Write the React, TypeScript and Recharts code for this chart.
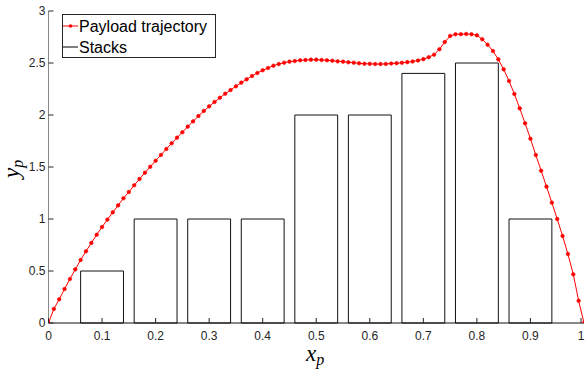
import { ComposedChart, Line, XAxis, YAxis, ReferenceArea } from "recharts";

const TRAJ_X = [
  0, 0.01, 0.02, 0.03, 0.04, 0.05, 0.06, 0.07, 0.08, 0.09,
  0.1, 0.11, 0.12, 0.13, 0.14, 0.15, 0.16, 0.17, 0.18, 0.19,
  0.2, 0.21, 0.22, 0.23, 0.24, 0.25, 0.26, 0.27, 0.28, 0.29,
  0.3, 0.31, 0.32, 0.33, 0.34, 0.35, 0.36, 0.37, 0.38, 0.39,
  0.4, 0.41, 0.42, 0.43, 0.44, 0.45, 0.46, 0.47, 0.48, 0.49,
  0.5, 0.51, 0.52, 0.53, 0.54, 0.55, 0.56, 0.57, 0.58, 0.59,
  0.6, 0.61, 0.62, 0.63, 0.64, 0.65, 0.66, 0.67, 0.68, 0.69,
  0.7, 0.71, 0.72, 0.73, 0.74, 0.75, 0.76, 0.77, 0.78, 0.79,
  0.8, 0.81, 0.82, 0.83, 0.84, 0.85, 0.86, 0.87, 0.88, 0.89,
  0.9, 0.91, 0.92, 0.93, 0.94, 0.95, 0.96, 0.97, 0.98, 0.99,
  1,
];
const TRAJ_Y = [
  0, 0.135, 0.228, 0.327, 0.423, 0.516, 0.606, 0.69, 0.77, 0.849,
  0.923, 0.994, 1.064, 1.131, 1.199, 1.26, 1.324, 1.385, 1.445, 1.502,
  1.56, 1.616, 1.673, 1.728, 1.782, 1.834, 1.888, 1.939, 1.99, 2.038,
  2.083, 2.125, 2.166, 2.205, 2.24, 2.276, 2.311, 2.343, 2.375, 2.404,
  2.43, 2.452, 2.474, 2.49, 2.503, 2.513, 2.519, 2.526, 2.529, 2.532,
  2.532, 2.529, 2.526, 2.522, 2.516, 2.513, 2.507, 2.503, 2.497, 2.493,
  2.492, 2.49, 2.49, 2.491, 2.495, 2.498, 2.502, 2.508, 2.515, 2.524,
  2.537, 2.556, 2.58, 2.632, 2.702, 2.76, 2.776, 2.777, 2.779, 2.776,
  2.766, 2.728, 2.676, 2.615, 2.535, 2.439, 2.327, 2.202, 2.064, 1.92,
  1.772, 1.615, 1.464, 1.311, 1.157, 1, 0.837, 0.663, 0.468, 0.214,
  0,
];

// stacks: centre, height, common width
const STACK_X = [0.1, 0.2, 0.3, 0.4, 0.5, 0.6, 0.7, 0.8, 0.9];
const STACK_H = [0.5, 1, 1, 1, 2, 2, 2.4, 2.5, 1];
const STACK_W = 0.08;

const X_TICKS = [0, 0.1, 0.2, 0.3, 0.4, 0.5, 0.6, 0.7, 0.8, 0.9, 1];
const Y_TICKS = [0, 0.5, 1, 1.5, 2, 2.5, 3];

const data = TRAJ_X.map((x, i) => ({ x, y: TRAJ_Y[i] }));

const FONT = "'Liberation Sans', Arial, Helvetica, sans-serif";
const MATH = "'Liberation Serif', 'DejaVu Serif', serif";
const RED = "#ff0000";
const INK = "#262626";

function XTick({ x, y, payload }: any) {
  return (
    <g>
      <line x1={x} x2={x} y1={y} y2={y - 5} stroke={INK} strokeWidth={1} />
      <text x={x} y={y + 17} textAnchor="middle" fontFamily={FONT} fontSize={12} fill={INK}>
        {payload.value}
      </text>
    </g>
  );
}

function YTick({ x, y, payload }: any) {
  return (
    <g>
      <line x1={x} x2={x + 5} y1={y} y2={y} stroke={INK} strokeWidth={1} />
      <text x={x - 3} y={y + 4} textAnchor="end" fontFamily={FONT} fontSize={12} fill={INK}>
        {payload.value}
      </text>
    </g>
  );
}

function ChartLegend() {
  return (
    <svg width={154} height={44} style={{ position: "absolute", left: 62, top: 14 }}>
      <rect x={0.5} y={0.5} width={153} height={43} fill="#fff" stroke={INK} strokeWidth={1} />
      <line x1={1} x2={16} y1={12} y2={12} stroke={RED} strokeWidth={1} />
      <circle cx={8.5} cy={12} r={1.8} fill={RED} />
      <text x={17} y={18} fontFamily={FONT} fontSize={16} fill="#000">Payload trajectory</text>
      <line x1={1} x2={16} y1={33} y2={33} stroke="#000" strokeWidth={1} />
      <text x={17} y={39} fontFamily={FONT} fontSize={16} fill="#000">Stacks</text>
    </svg>
  );
}

export default function App() {
  return (
    <div style={{ position: "absolute", left: 0, top: 0, width: 585, height: 371, background: "#fff" }}>
      <ComposedChart width={585} height={371} data={data} margin={{ top: 11, right: 1, left: 0, bottom: 0 }}>
        <XAxis
          dataKey="x" type="number" domain={[0, 1]} ticks={X_TICKS}
          height={48} tickSize={0} tickMargin={0} tickLine={false}
          axisLine={{ stroke: "#111", strokeWidth: 1 }} tick={<XTick />}
          allowDataOverflow
        />
        <YAxis
          type="number" domain={[0, 3]} ticks={Y_TICKS}
          width={48.5} tickSize={0} tickMargin={0} tickLine={false}
          axisLine={{ stroke: "#888", strokeWidth: 1 }} tick={<YTick />}
          allowDataOverflow
        />
        {STACK_X.map((cx, i) => (
          <ReferenceArea
            key={cx}
            x1={cx - STACK_W / 2} x2={cx + STACK_W / 2} y1={0} y2={STACK_H[i]}
            fill="#fff" fillOpacity={1} stroke="#111" strokeWidth={1} strokeOpacity={1}
            ifOverflow="visible"
          />
        ))}
        <Line
          type="linear" dataKey="y" stroke={RED} strokeWidth={1}
          dot={{ r: 1.8, fill: RED, stroke: RED, strokeWidth: 0.6 }}
          isAnimationActive={false}
        />
      </ComposedChart>
      <svg width={585} height={371} style={{ position: "absolute", left: 0, top: 0, pointerEvents: "none" }}>
        <text x={306} y={361} fontFamily={MATH} fontStyle="italic" fontSize={23} fill="#000">
          x<tspan fontSize={16} dy={4}>p</tspan>
        </text>
        <text transform="translate(19,178) rotate(-90)" fontFamily={MATH} fontStyle="italic" fontSize={23} fill="#000">
          y<tspan fontSize={16} dy={4}>p</tspan>
        </text>
      </svg>
      <ChartLegend />
    </div>
  );
}
